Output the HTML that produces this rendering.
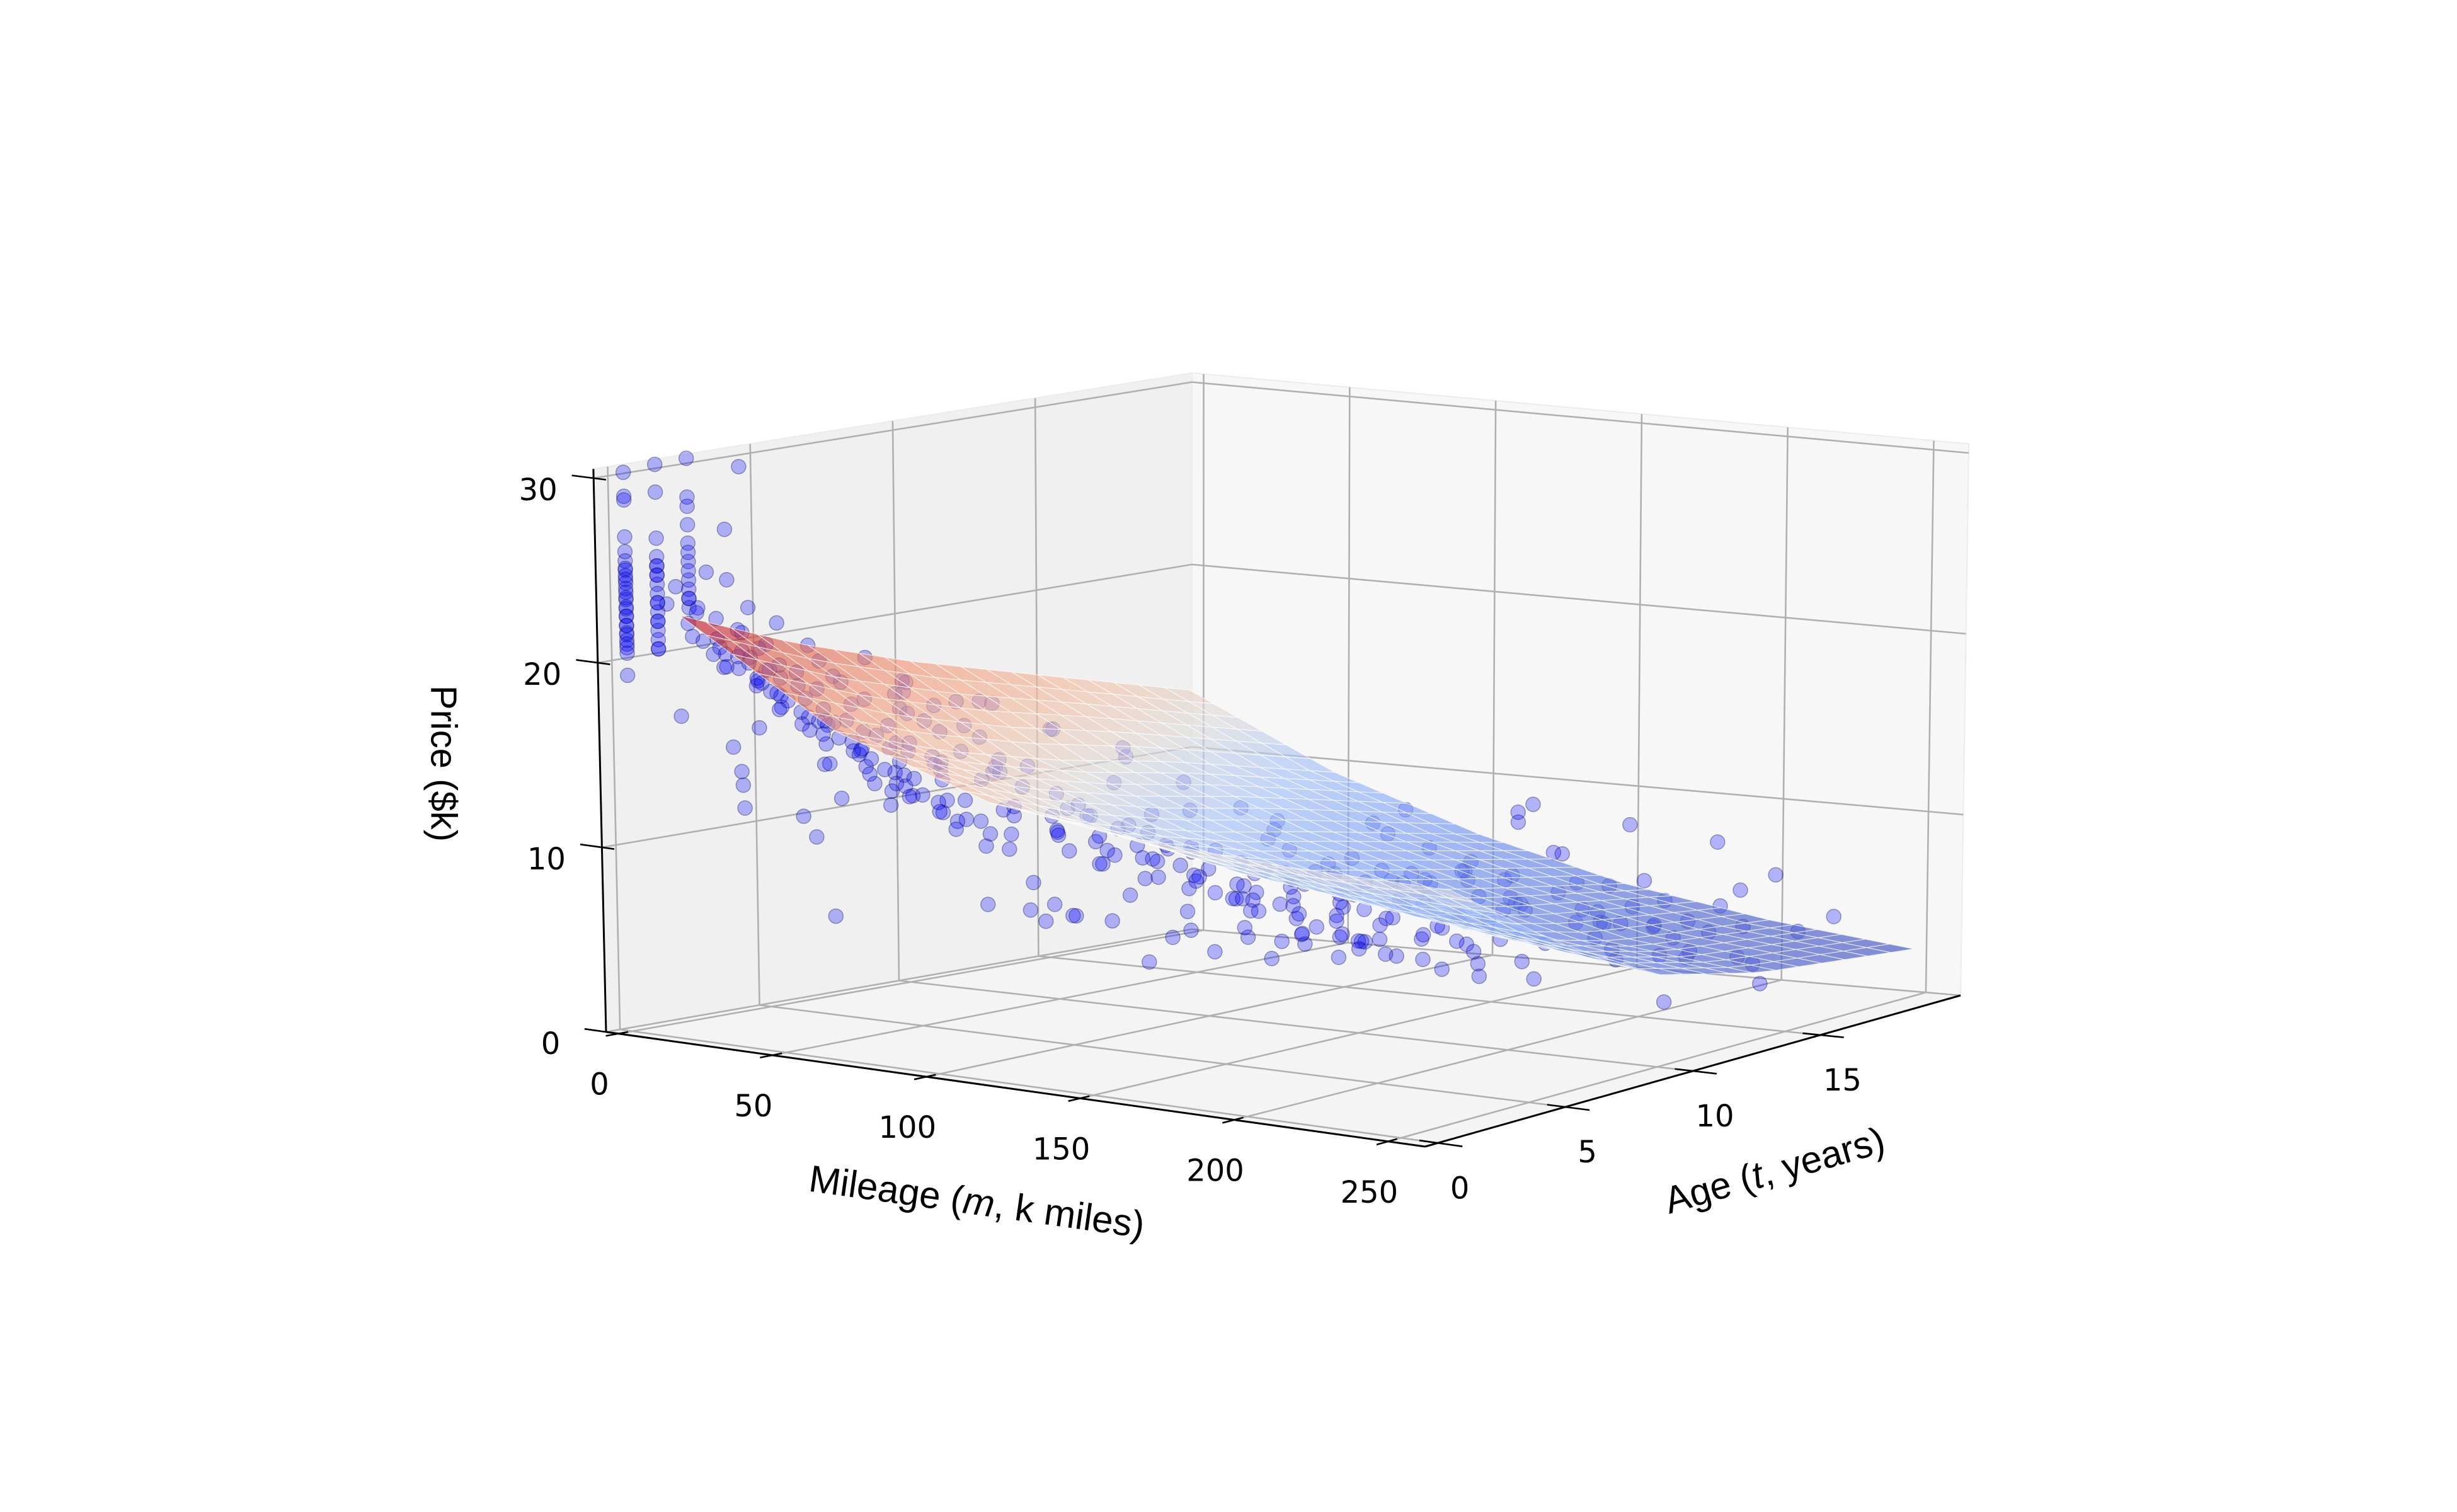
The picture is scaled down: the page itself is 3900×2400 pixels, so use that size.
<!DOCTYPE html>
<html><head><meta charset="utf-8"><style>
html,body{margin:0;padding:0;background:#fff;}
svg{display:block;}
</style></head><body>
<svg id="chart" xmlns="http://www.w3.org/2000/svg" width="3900" height="2400" viewBox="0 0 3900 2400">
<rect width="3900" height="2400" fill="#ffffff"/>
<g id="panes"></g>
<g id="grid"></g>
<g id="pts"></g>
<g id="surf"></g>
<g id="axes"></g>
<g id="labels"></g>
<text x="700" y="1212" transform="rotate(90 700 1212)" text-anchor="middle" dominant-baseline="middle" font-family="Liberation Sans, sans-serif" font-size="58">Price ($k)</text>
<text x="1550" y="1912" transform="rotate(8 1550 1912)" text-anchor="middle" dominant-baseline="middle" font-family="Liberation Sans, sans-serif" font-size="60">Mileage (<tspan font-style="italic">m</tspan>, k miles)</text>
<text x="2818" y="1862" transform="rotate(-16 2818 1862)" text-anchor="middle" dominant-baseline="middle" font-family="Liberation Sans, sans-serif" font-size="60">Age (<tspan font-style="italic">t</tspan>, years)</text>
</svg>
<script>
// ---- data ----
const mTicks = [0, 50, 100, 150, 200, 250];
const tTicks = [0, 5, 10, 15];
const zTicks = [0, 10, 20, 30];
const surfM = [0, 50, 100, 150, 200, 250];
const surfT = [2, 6, 10, 14, 20];
const surfZ = [
  [22, 16.8, 14, 13, 12.6, 12.5],
  [19.5, 14.6, 11.6, 9.8, 8.8, 8.3],
  [17.5, 13, 10, 7.8, 6, 5],
  [15.8, 11.8, 8.8, 6.5, 4.5, 3.6],
  [13.3, 9.5, 6.8, 4.8, 3.5, 2.6]
];
const mileage = [
1,1,1,1,1,1,1,1,1,1, 1,1,1,1,1,1,1,1,
2,2,2,2,2,2,2,2,2,2,2,
3,3,3,3,3,3,3,3,3, 20,15,
8,10,12,15,14,18,20,22,25,28, 30,20,24,32,35,16,12,10,9,18,
26,30,38,40,42,36,45,48,50,44, 52,55,58,60,28,60,65,70,68,72,
75,80,85,88,90,40,95,110,22,28, 33,37,46,54,62,66,74,78,82,92,
96,100,104,108,112,116,120,124,128,132, 136,140,144,148,152,156,160,164,168,172,
176,180,184,188,192,196,200,205,210,215, 100,110,120,130,140,150,160,170,125,105,
150,160,170,180,190,200,210,220,165,175, 185,195,205,215,140,155,145,160,170,180,
190,200,130,150,165,175,185,195,210,120, 135,125,145,155,168,182,200,140,190,210,
160,175,130,150,170,120,110,100,95,105, 230,240,225,235,250,180,190,200,170,160,
60,70,80,90,100,110,90,100,115,125, 135,145,155,165,175,185,195,130,140,150,
120,130,85,95,115,160,170,145,125,135, 105,115,95,75,85,65,55,50,45,38,
30,25,20,15,48,58,68,76,84,93, 100,90,
55,70,85,100,110,90,120,75,65,130, 105,140,150,160,45,
10,14,18,22,26,30,34,38,42,46, 50,54,58,62,66,70,74,78,82,86,
15,19,23,27,31,35,39,43,47,51, 55,59,63,67,71,75,79,83,87,91,
12,18,24,30,36,42,48,54,60,66, 72,78,84,90,
90,98,106,114,122,130,138,146,154,162, 170,178,186,194,202,210,
100,108,116,124,132,140,148,156,164,172, 180,188,196,204,212,220,
140,150,160,170,180,190,200,210,220,230,
140,150,160,170,180,190,200,210,220,230,
120,130,140,150,160,170,180,190,200,210,
5,10,15,20,25,30,35,
1,1,1,1,1,1,1,1,1,1,
2,2,2,2,2,2,2,2,
3,3,3,3
];
const age = [
0,0,0,0,0,0,0,0,0,0, 0,0,0,0,0,0,0,0,
1,1,1,1,1,1,1,1,1,1,1,
2,2,2,2,2,2,2,2,2, 2,2,
1,1.5,2,1,2,2.5,2,3,2,2.5, 3,1.5,1.8,2,3,3,2.5,3,1,1,
1.2,1.5,2,2.5,3,1.5,2,2.8,3,3.5, 2,2.5,3,3.5,4,2,2.5,3,3.8,2,
2.8,3.2,2.5,3,3.5,3,4,4,1,1, 2.5,1,1.5,1.5,3,4,4,1.5,4.5,2,
2.8,3.2,4,2.5,3.5,4.5,3,4,5,3.5, 4.5,5,3,4,5.5,4,5,6,4.5,5.5,
6.5,5,6,7,5.5,6.5,7.5,6,7,8, 5,6,7,6,7,8,9,8,5,3,
12,13,12,14,15,16,17,18,11,13, 12,14,15,16,10,11,13,15,16,17,
18,19,12,14,16,18,16,12,13,10, 11,9,9,10,14,13,18,16,20,20,
18,10,14,16,18,15,12,10,9,11, 16,18,14,12,14,9,10,11,7,6,
4,5,5,6,6,5,4,4.5,6,6.5, 7,6,7,7.5,8,8.5,9,8,9,10,
8,9,6,7,7,8,9,8,5,5.5, 5,4,5,4.5,3.8,3,3.2,4,4.5,3.5,
3,4,2,2.5,2,2.5,2.2,2.6,2,3, 4,3,
4,5,6,7,8,8,9,7,6,6, 6,8,7,10,5,
2.5,2.1,2.9,2.3,2.7,2.2,2.8,2.4,2.6,2.1, 2.9,2.5,2.2,2.8,2.4,2.6,2.1,2.9,2.3,2.7,
3.5,3.1,3.9,3.3,3.7,3.2,3.8,3.4,3.6,3.1, 3.9,3.5,3.2,3.8,3.4,3.6,3.1,3.9,3.3,3.7,
1.5,1.2,1.8,1.4,1.6,1.2,1.8,1.5,1.3,1.7, 1.5,1.2,1.8,1.4,
4,4.5,3.8,4.3,4.1,4.6,3.9,4.4,4.2,4.7, 4,4.5,3.8,4.3,4.1,4.6,
6,6.5,5.8,6.3,6.1,6.6,5.9,6.4,6.2,6.7, 6,6.5,5.8,6.3,6.1,6.6,
12,12.5,11.6,12.3,12.1,11.8,12.6,12.2,11.7,12.4,
15,15.5,14.6,15.3,15.1,14.8,15.6,15.2,14.7,15.4,
9,9.5,8.6,9.3,9.1,8.8,9.6,9.2,8.7,9.4,
1,1.2,0.8,1.1,1.3,0.9,1.2,
0,0,0,0,0,0,0,0,0,0,
1,1,1,1,1,1,1,1,
2,2,2,2
];
const price = [
30.3,29,28.8,26.8,26,25.5,25.1,24.7,24.3,23.8, 23.4,22.9,22.5,22,21.6,21.2,20.8,19.3,
30.5,29,26.5,25.5,25,24.5,23.5,23,22,21.5,20.5,
30.6,28.5,28,27,26,25,24,23,22.5, 30.5,27,
24,22.5,21,23,19.5,20,21.5,18,19,17.5, 16.5,24.5,23,20,18.5,16,15,13.5,17,25,
22,21,19,17,16,22.5,20.5,18,16.5,15, 19.5,18.5,17,15.5,14,21,19,17.5,15,20,
18.5,16,19,17,15,6.3,7.5,7.5,21,20, 19.5,21.5,21.5,20,18,14.5,13,18.5,12.5,18,
16,14.5,12,16,13.5,11,14,12.5,10.5,13, 11.5,10,14,12,9.5,12,10.5,9,11,10,
8.5,11,9.5,8,10.5,9,7.5,10,8.5,7, 7,8,7,6.5,6,5.5,5.5,6,5,9.5,
8,7.5,9,9,7,6,5.5,7,10,8, 7,6,5,4.5,9,7,6,5.5,6.5,5,
4,3.5,8.5,7.5,8,6,4.5,5,4,10, 6.5,7.5,6,11.5,11,12,8.5,4,5,3,
3.5,8,10.5,9.5,9,6,7,8,9.5,5.5, 3,5,4,2.5,3,6,4.5,3.5,5.5,6.5,
13,11.5,11,10,9.5,10,12.5,11.5,9,8.5, 8,8.5,8,7.5,7,6.5,6,6,5.5,5,
4.5,4,7,6,5.5,9.5,9,10.5,12,11, 12.5,13,13.5,14,14.8,16.2,14.5,13,12,12.5,
11.5,10,12,13,15,14,16.5,15.8,17.5,15.5, 7,8,
19,18,16.5,15,13.5,15,12,16,17.5,13, 14,11.5,12.5,11,18,
20,19.5,18.5,19,18,17.5,17,16.5,16.8,16, 15.5,15.8,15,14.6,14.2,14.5,13.8,13.4,13,12.6,
19,18,17.5,17,16.5,16,15.5,15.2,14.8,14.2, 14,13.6,13.2,12.8,12.5,12,11.8,11.4,11,10.8,
21,20.5,20,19,19.5,18.5,18,17.5,17.8,17, 16.5,16,15.8,15.2,
13,12.5,12,11.5,11,10.8,10.2,10,9.6,9.2, 9,8.6,8.2,8,7.6,7.2,
11,10.5,10.2,9.8,9.4,9,8.6,8.3,8,7.6, 7.3,7,6.6,6.3,6,5.6,
8,7.5,7.8,7,6.5,6.8,6,5.5,5.2,4.8,
7,6.5,6,6.2,5.5,5,4.8,4.4,4,3.6,
9,8.5,8.2,7.8,7.2,7,6.5,6,5.8,5.2,
23,22,21.5,22.5,20.5,21,20,
25,24.5,24,23.5,23,22.5,22,21.5,21,20.5,
25,24,23,22.5,22,21,20.5,24.5,
25.5,24.5,23.5,23
];

// ---- projection ----
const mMin = -4, mMax = 262, tMin = -0.5, tMax = 20.5, zTop = 30.5;
const A = [962,1638], B = [2262,1820], C = [3112,1580], D = [1892,1475];
const hA = 29.3, hB = 29.8, hC = 28.7, hD = 28.95;
const sA = -0.66, sB = -0.3, sC = 0.43, sD = 0;
function bil(a,b,c,d,u,v){ return (1-u)*(1-v)*a + u*(1-v)*b + u*v*c + (1-u)*v*d; }
function P(m,t,z){
  const u=(m-mMin)/(mMax-mMin), v=(t-tMin)/(tMax-tMin);
  const x=bil(A[0],B[0],C[0],D[0],u,v), y=bil(A[1],B[1],C[1],D[1],u,v);
  const h=bil(hA,hB,hC,hD,u,v), s=bil(sA,sB,sC,sD,u,v);
  return [x+s*z, y-h*z];
}
const NS='http://www.w3.org/2000/svg';
function mk(tag, attrs, parent){ const e=document.createElementNS(NS,tag); for(const k in attrs) e.setAttribute(k,attrs[k]); parent.appendChild(e); return e; }
function pts(arr){ return arr.map(p=>p[0].toFixed(1)+','+p[1].toFixed(1)).join(' '); }

// panes
const gP=document.getElementById('panes');
let e;
e=mk('polygon',{points:pts([P(mMin,tMin,0),P(mMax,tMin,0),P(mMax,tMax,0),P(mMin,tMax,0)]),fill:'#f4f4f4',stroke:'#ececec','stroke-width':2},gP);


e=mk('polygon',{points:pts([P(mMin,tMin,0),P(mMin,tMax,0),P(mMin,tMax,zTop),P(mMin,tMin,zTop)]),fill:'#f0f0f0',stroke:'#ececec','stroke-width':2},gP);


e=mk('polygon',{points:pts([P(mMin,tMax,0),P(mMax,tMax,0),P(mMax,tMax,zTop),P(mMin,tMax,zTop)]),fill:'#f7f7f7',stroke:'#ececec','stroke-width':2},gP);



// gridlines
const gG=document.getElementById('grid');
function gl(p,q,name){ const l=mk('line',{x1:p[0],y1:p[1],x2:q[0],y2:q[1],stroke:'#b0b0b0','stroke-width':2.6},gG);
  
   }
mTicks.forEach(m=>{ gl(P(m,tMin,0),P(m,tMax,0),'floor-grid-m'); gl(P(m,tMax,0),P(m,tMax,zTop),'back-grid-m'); });
tTicks.forEach(t=>{ gl(P(mMin,t,0),P(mMax,t,0),'floor-grid-t'); gl(P(mMin,t,0),P(mMin,t,zTop),'left-grid-t'); });
zTicks.forEach(z=>{ gl(P(mMin,tMin,z),P(mMin,tMax,z),'left-grid-z'); gl(P(mMin,tMax,z),P(mMax,tMax,z),'back-grid-z'); });

// scatter
const gS=document.getElementById('pts');
for(let i=0;i<price.length;i++){
  const p=P(mileage[i],age[i],price[i]);
  const c=mk('circle',{cx:p[0].toFixed(1),cy:p[1].toFixed(1),r:11.5,fill:'rgba(0,0,255,0.28)',stroke:'rgba(0,0,80,0.35)','stroke-width':1.5},gS);
  
  
}

// surface
const stops=[[0,[59,76,192]],[0.125,[86,114,222]],[0.25,[118,153,246]],[0.375,[160,190,252]],[0.5,[221,220,219]],[0.625,[243,190,164]],[0.75,[243,152,120]],[0.875,[222,96,77]],[1,[180,4,38]]];
function cmap(v){ v=Math.max(0,Math.min(1,v)); for(let i=1;i<stops.length;i++){ if(v<=stops[i][0]){ const a=stops[i-1],b=stops[i],f=(v-a[0])/(b[0]-a[0]); return a[1].map((c,k)=>Math.round(c+(b[1][k]-c)*f)); } } return stops[stops.length-1][1]; }
function zAt(m,t){
  let i=0; while(i<surfM.length-2 && m>surfM[i+1]) i++;
  let j=0; while(j<surfT.length-2 && t>surfT[j+1]) j++;
  const fu=(m-surfM[i])/(surfM[i+1]-surfM[i]), fv=(t-surfT[j])/(surfT[j+1]-surfT[j]);
  return (1-fu)*(1-fv)*surfZ[j][i]+fu*(1-fv)*surfZ[j][i+1]+fu*fv*surfZ[j+1][i+1]+(1-fu)*fv*surfZ[j+1][i];
}
const flat=surfZ.flat(); const zmin=Math.min(...flat), zmax=Math.max(...flat);
const NM=30, NT=20, m0=surfM[0], m1=surfM[surfM.length-1], t0=surfT[0], t1=surfT[surfT.length-1];
const quads=[];
for(let a=0;a<NM;a++) for(let b=0;b<NT;b++){
  const ma=m0+(m1-m0)*a/NM, mb=m0+(m1-m0)*(a+1)/NM, ta=t0+(t1-t0)*b/NT, tb=t0+(t1-t0)*(b+1)/NT;
  const mc=(ma+mb)/2, tc=(ta+tb)/2;
  const depth=(mMax-mc)/(mMax-mMin)+(tc-tMin)/(tMax-tMin);
  quads.push({ma,mb,ta,tb,mc,tc,depth});
}
quads.sort((p,q)=>q.depth-p.depth);
const gF=document.getElementById('surf');
quads.forEach(q=>{
  const z=zAt(q.mc,q.tc); const c=cmap((z-zmin)/(zmax-zmin));
  const poly=[P(q.ma,q.ta,zAt(q.ma,q.ta)),P(q.mb,q.ta,zAt(q.mb,q.ta)),P(q.mb,q.tb,zAt(q.mb,q.tb)),P(q.ma,q.tb,zAt(q.ma,q.tb))];
  const el=mk('polygon',{points:pts(poly),fill:'rgba('+c.join(',')+',0.64)',stroke:'rgba(255,255,255,0.65)','stroke-width':1.2,'stroke-linejoin':'round'},gF);
  
  
});

// axes lines & ticks
const gA=document.getElementById('axes');
function al(p,q,name,w){ const l=mk('line',{x1:p[0],y1:p[1],x2:q[0],y2:q[1],stroke:'#000','stroke-width':w||3},gA);
  
   }
al(P(mMin,tMin,0),P(mMin,tMin,zTop),'z-axis-line');
al(P(mMin,tMin,0),P(mMax,tMin,0),'x-axis-line');
al(P(mMax,tMin,0),P(mMax,tMax,0),'y-axis-line');
mTicks.forEach(m=>al(P(m,tMin-0.45,0),P(m,tMin+0.35,0),'x-tick',2.6));
tTicks.forEach(t=>al(P(mMax+8,t,0),P(mMax-6,t,0),'y-tick',2.6));
zTicks.forEach(z=>al(P(mMin-7,tMin,z),P(mMin+4,tMin,z),'z-tick',2.6));

// tick labels
const gL=document.getElementById('labels');
function tl(p,txt,name){ const t=mk('text',{x:p[0].toFixed(1),y:p[1].toFixed(1),'text-anchor':'middle','dominant-baseline':'middle','font-family':'DejaVu Sans, sans-serif','font-size':48,fill:'#000'},gL);
  t.textContent=txt;
  
   }
mTicks.forEach(m=>{ const p=P(m,tMin,0); tl([p[0]-30,p[1]+84],String(m),'x-tick-label'); });
tTicks.forEach(t=>{ const p=P(mMax,t,0); tl([p[0]+35,p[1]+75],String(t),'y-tick-label'); });
zTicks.forEach(z=>{ const p=P(mMin,tMin,z); tl([p[0]-88,p[1]+22],String(z),'z-tick-label'); });
</script>
</body></html>
